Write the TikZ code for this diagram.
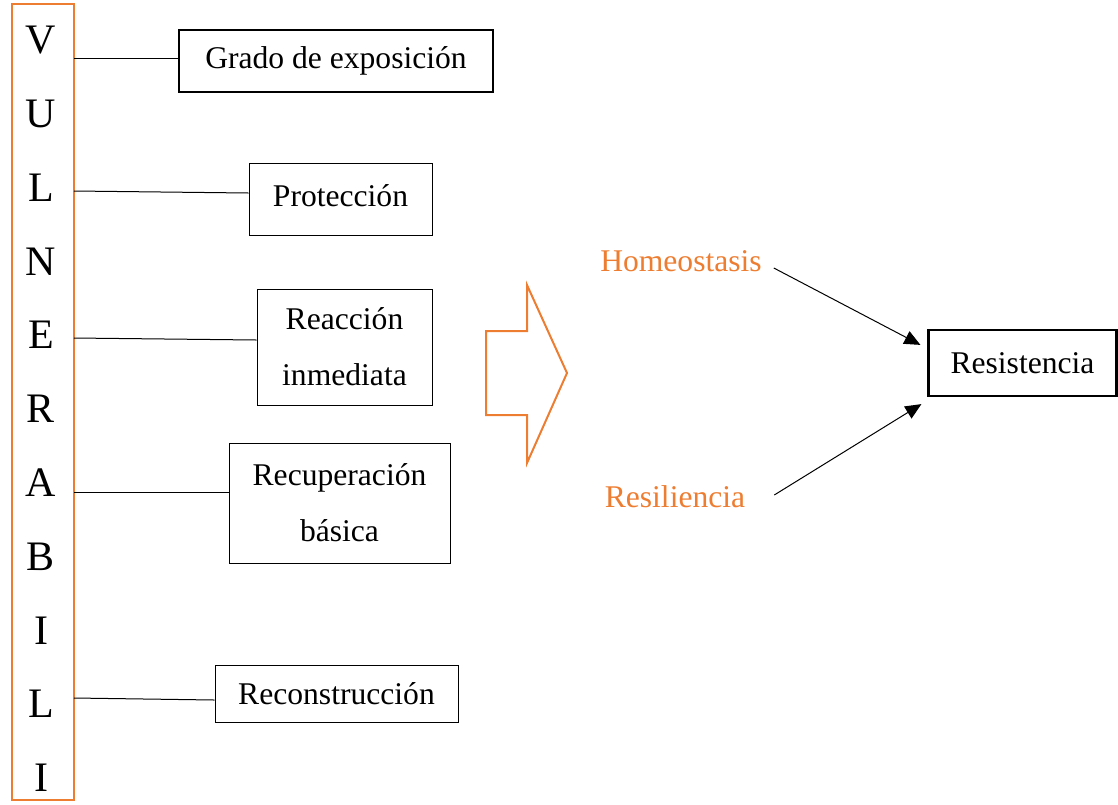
\documentclass[tikz,border=0pt]{standalone}
\usepackage{fontspec}
\setmainfont{Liberation Serif}
\usepackage{xcolor}
\usetikzlibrary{arrows.meta}
\definecolor{wordorange}{RGB}{237,125,49}

\begin{document}
\begin{tikzpicture}[x=0.5pt, y=-0.5pt,
  txt/.style={font=\fontsize{15.8}{28}\selectfont, align=center},
  box/.style={txt, draw=black, line width=0.5pt, inner sep=0pt},
  thickbox/.style={box, line width=1.1pt},
  letter/.style={font=\fontsize{21}{21}\selectfont, inner sep=0pt},
  orangetxt/.style={txt, text=wordorange},
  link/.style={black, line width=0.5pt},
  tip/.style={link, -{Triangle[length=8pt, width=7pt]}}]
  \useasboundingbox (0,0) rectangle (1118,804);

  % orange column
  \node[draw=wordorange, line width=1pt, minimum width=31pt, minimum height=398pt, inner sep=0pt] (vul) at (43,402) {};
  \foreach \l [count=\i] in {V,U,L,N,E,R,A,B,I,L,I}
    \node[letter] (l\i) at (41,{40+73.8*(\i-1)}) {\l};

  % boxes
  \node[thickbox, minimum width=157pt, minimum height=31pt] (grado) at (336,61) {Grado de exposición};
  \node[box, minimum width=91.5pt, minimum height=36pt] (prot) at (340.5,199) {\raisebox{3pt}{Protección}};
  \node[box, minimum width=87.5pt, minimum height=58pt] (reac) at (344.5,347) {Reacción\\inmediata};
  \node[box, minimum width=110.5pt, minimum height=60pt] (recu) at (339.5,503) {Recuperación\\básica};
  \node[box, minimum width=121.5pt, minimum height=28.5pt] (recon) at (336.5,693.5) {Reconstrucción};
  \node[thickbox, minimum width=94pt, minimum height=33pt] (res) at (1022.5,363) {Resistencia};

  \node[orangetxt] (homeo) at (681,261) {Homeostasis};
  \node[orangetxt] (resil) at (675,497) {Resiliencia};

  % links from the column
  \coordinate (c1) at (74,58);
  \coordinate (c2) at (74,191);
  \coordinate (c3) at (74,338);
  \coordinate (c4) at (74,492);
  \coordinate (c5) at (74,698);
  \draw[link] (c1) -- (c1 -| grado.west);
  \draw[link] (c2) -- ([yshift=-1pt]c2 -| prot.west);
  \draw[link] (c3) -- ([yshift=-1pt]c3 -| reac.west);
  \draw[link] (c4) -- (c4 -| recu.west);
  \draw[link] (c5) -- ([yshift=-1pt]c5 -| recon.west);

  % big arrow
  \draw[wordorange, line width=1pt] (486,331) -- (527,331) -- (527,285) -- (567,373)
    -- (527,463) -- (527,415) -- (486,415) -- cycle;

  % arrows to Resistencia
  \draw[tip] ([xshift=2.5pt, yshift=-3.5pt]homeo.east) -- ([xshift=-3.5pt, yshift=-8pt]res.north west);
  \draw[tip] ([xshift=11pt, yshift=1pt]resil.east) -- ([xshift=-3pt, yshift=-3.5pt]res.south west);
\end{tikzpicture}
\end{document}
